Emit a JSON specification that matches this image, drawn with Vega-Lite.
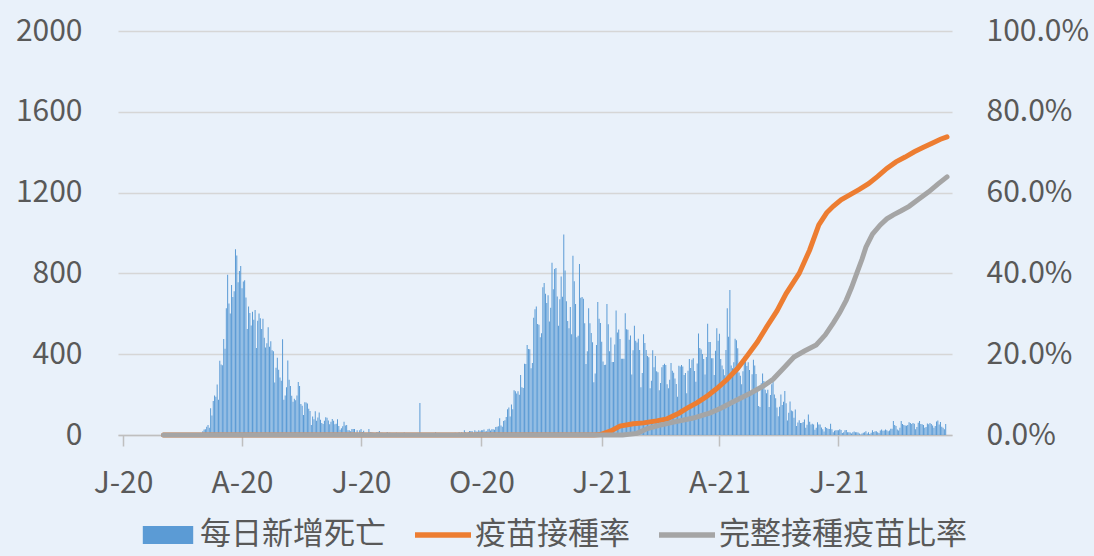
{
  "$schema": "https://vega.github.io/schema/vega-lite/v6.json",
  "width": 834,
  "height": 404,
  "autosize": {"type": "none"},
  "padding": {"left": 118, "top": 31, "right": 142, "bottom": 121},
  "background": "#E9F1FA",
  "config": {
    "view": {"stroke": null},
    "axis": {"labelFont": "Noto Sans CJK TC", "labelFontSize": 30, "labelColor": "#595959", "title": null},
    "legend": {"labelFont": "Noto Sans CJK TC", "labelFontSize": 31, "labelColor": "#595959", "labelLimit": 0}
  },
  "datasets": {
    "deaths": [
{"d":"2020-02-21","v":1},{"d":"2020-02-22","v":1},{"d":"2020-02-23","v":1},{"d":"2020-02-24","v":4},{"d":"2020-02-25","v":3},{"d":"2020-02-26","v":2},{"d":"2020-02-27","v":5},{"d":"2020-02-28","v":4},{"d":"2020-02-29","v":8},
{"d":"2020-03-01","v":5},{"d":"2020-03-02","v":18},{"d":"2020-03-03","v":27},{"d":"2020-03-04","v":28},{"d":"2020-03-05","v":41},{"d":"2020-03-06","v":49},{"d":"2020-03-07","v":36},{"d":"2020-03-08","v":133},{"d":"2020-03-09","v":97},{"d":"2020-03-10","v":168},{"d":"2020-03-11","v":196},{"d":"2020-03-12","v":189},{"d":"2020-03-13","v":250},{"d":"2020-03-14","v":175},{"d":"2020-03-15","v":368},{"d":"2020-03-16","v":349},{"d":"2020-03-17","v":345},{"d":"2020-03-18","v":475},{"d":"2020-03-19","v":427},{"d":"2020-03-20","v":627},{"d":"2020-03-21","v":793},{"d":"2020-03-22","v":651},{"d":"2020-03-23","v":601},{"d":"2020-03-24","v":743},{"d":"2020-03-25","v":683},{"d":"2020-03-26","v":712},{"d":"2020-03-27","v":919},{"d":"2020-03-28","v":889},{"d":"2020-03-29","v":756},{"d":"2020-03-30","v":812},{"d":"2020-03-31","v":837},
{"d":"2020-04-01","v":727},{"d":"2020-04-02","v":760},{"d":"2020-04-03","v":766},{"d":"2020-04-04","v":681},{"d":"2020-04-05","v":525},{"d":"2020-04-06","v":636},{"d":"2020-04-07","v":604},{"d":"2020-04-08","v":542},{"d":"2020-04-09","v":610},{"d":"2020-04-10","v":570},{"d":"2020-04-11","v":619},{"d":"2020-04-12","v":431},{"d":"2020-04-13","v":566},{"d":"2020-04-14","v":602},{"d":"2020-04-15","v":578},{"d":"2020-04-16","v":525},{"d":"2020-04-17","v":575},{"d":"2020-04-18","v":482},{"d":"2020-04-19","v":433},{"d":"2020-04-20","v":454},{"d":"2020-04-21","v":534},{"d":"2020-04-22","v":437},{"d":"2020-04-23","v":464},{"d":"2020-04-24","v":420},{"d":"2020-04-25","v":415},{"d":"2020-04-26","v":260},{"d":"2020-04-27","v":333},{"d":"2020-04-28","v":382},{"d":"2020-04-29","v":323},{"d":"2020-04-30","v":285},
{"d":"2020-05-01","v":269},{"d":"2020-05-02","v":474},{"d":"2020-05-03","v":174},{"d":"2020-05-04","v":195},{"d":"2020-05-05","v":236},{"d":"2020-05-06","v":369},{"d":"2020-05-07","v":274},{"d":"2020-05-08","v":243},{"d":"2020-05-09","v":194},{"d":"2020-05-10","v":165},{"d":"2020-05-11","v":179},{"d":"2020-05-12","v":172},{"d":"2020-05-13","v":195},{"d":"2020-05-14","v":262},{"d":"2020-05-15","v":242},{"d":"2020-05-16","v":153},{"d":"2020-05-17","v":145},{"d":"2020-05-18","v":99},{"d":"2020-05-19","v":162},{"d":"2020-05-20","v":161},{"d":"2020-05-21","v":156},{"d":"2020-05-22","v":130},{"d":"2020-05-23","v":119},{"d":"2020-05-24","v":50},{"d":"2020-05-25","v":92},{"d":"2020-05-26","v":78},{"d":"2020-05-27","v":117},{"d":"2020-05-28","v":70},{"d":"2020-05-29","v":87},{"d":"2020-05-30","v":111},{"d":"2020-05-31","v":75},
{"d":"2020-06-01","v":60},{"d":"2020-06-02","v":55},{"d":"2020-06-03","v":71},{"d":"2020-06-04","v":88},{"d":"2020-06-05","v":85},{"d":"2020-06-06","v":72},{"d":"2020-06-07","v":53},{"d":"2020-06-08","v":65},{"d":"2020-06-09","v":79},{"d":"2020-06-10","v":71},{"d":"2020-06-11","v":53},{"d":"2020-06-12","v":56},{"d":"2020-06-13","v":78},{"d":"2020-06-14","v":44},{"d":"2020-06-15","v":26},{"d":"2020-06-16","v":34},{"d":"2020-06-17","v":43},{"d":"2020-06-18","v":66},{"d":"2020-06-19","v":47},{"d":"2020-06-20","v":49},{"d":"2020-06-21","v":24},{"d":"2020-06-22","v":23},{"d":"2020-06-23","v":18},{"d":"2020-06-24","v":30},{"d":"2020-06-25","v":30},{"d":"2020-06-26","v":30},{"d":"2020-06-27","v":8},{"d":"2020-06-28","v":24},{"d":"2020-06-29","v":6},{"d":"2020-06-30","v":23},
{"d":"2020-07-01","v":30},{"d":"2020-07-02","v":15},{"d":"2020-07-03","v":21},{"d":"2020-07-04","v":7},{"d":"2020-07-05","v":8},{"d":"2020-07-06","v":8},{"d":"2020-07-07","v":30},{"d":"2020-07-08","v":15},{"d":"2020-07-09","v":12},{"d":"2020-07-10","v":12},{"d":"2020-07-11","v":7},{"d":"2020-07-12","v":7},{"d":"2020-07-13","v":13},{"d":"2020-07-14","v":13},{"d":"2020-07-15","v":20},{"d":"2020-07-16","v":11},{"d":"2020-07-17","v":11},{"d":"2020-07-18","v":9},{"d":"2020-07-19","v":3},{"d":"2020-07-20","v":3},{"d":"2020-07-21","v":15},{"d":"2020-07-22","v":9},{"d":"2020-07-23","v":11},{"d":"2020-07-24","v":10},{"d":"2020-07-25","v":5},{"d":"2020-07-26","v":5},{"d":"2020-07-27","v":5},{"d":"2020-07-28","v":11},{"d":"2020-07-29","v":6},{"d":"2020-07-30","v":3},{"d":"2020-07-31","v":9},
{"d":"2020-08-01","v":3},{"d":"2020-08-02","v":5},{"d":"2020-08-03","v":12},{"d":"2020-08-04","v":5},{"d":"2020-08-05","v":10},{"d":"2020-08-06","v":6},{"d":"2020-08-07","v":6},{"d":"2020-08-08","v":7},{"d":"2020-08-09","v":4},{"d":"2020-08-10","v":2},{"d":"2020-08-11","v":6},{"d":"2020-08-12","v":6},{"d":"2020-08-13","v":10},{"d":"2020-08-14","v":6},{"d":"2020-08-15","v":158},{"d":"2020-08-16","v":4},{"d":"2020-08-17","v":7},{"d":"2020-08-18","v":3},{"d":"2020-08-19","v":4},{"d":"2020-08-20","v":5},{"d":"2020-08-21","v":6},{"d":"2020-08-22","v":9},{"d":"2020-08-23","v":7},{"d":"2020-08-24","v":4},{"d":"2020-08-25","v":7},{"d":"2020-08-26","v":4},{"d":"2020-08-27","v":13},{"d":"2020-08-28","v":9},{"d":"2020-08-29","v":1},{"d":"2020-08-30","v":4},{"d":"2020-08-31","v":1},
{"d":"2020-09-01","v":6},{"d":"2020-09-02","v":10},{"d":"2020-09-03","v":6},{"d":"2020-09-04","v":10},{"d":"2020-09-05","v":6},{"d":"2020-09-06","v":7},{"d":"2020-09-07","v":8},{"d":"2020-09-08","v":10},{"d":"2020-09-09","v":10},{"d":"2020-09-10","v":10},{"d":"2020-09-11","v":11},{"d":"2020-09-12","v":6},{"d":"2020-09-13","v":7},{"d":"2020-09-14","v":14},{"d":"2020-09-15","v":9},{"d":"2020-09-16","v":13},{"d":"2020-09-17","v":10},{"d":"2020-09-18","v":24},{"d":"2020-09-19","v":14},{"d":"2020-09-20","v":10},{"d":"2020-09-21","v":14},{"d":"2020-09-22","v":20},{"d":"2020-09-23","v":20},{"d":"2020-09-24","v":19},{"d":"2020-09-25","v":10},{"d":"2020-09-26","v":24},{"d":"2020-09-27","v":17},{"d":"2020-09-28","v":16},{"d":"2020-09-29","v":24},{"d":"2020-09-30","v":19},
{"d":"2020-10-01","v":24},{"d":"2020-10-02","v":23},{"d":"2020-10-03","v":27},{"d":"2020-10-04","v":17},{"d":"2020-10-05","v":18},{"d":"2020-10-06","v":28},{"d":"2020-10-07","v":31},{"d":"2020-10-08","v":22},{"d":"2020-10-09","v":28},{"d":"2020-10-10","v":29},{"d":"2020-10-11","v":26},{"d":"2020-10-12","v":39},{"d":"2020-10-13","v":41},{"d":"2020-10-14","v":43},{"d":"2020-10-15","v":83},{"d":"2020-10-16","v":47},{"d":"2020-10-17","v":41},{"d":"2020-10-18","v":69},{"d":"2020-10-19","v":73},{"d":"2020-10-20","v":89},{"d":"2020-10-21","v":127},{"d":"2020-10-22","v":136},{"d":"2020-10-23","v":91},{"d":"2020-10-24","v":151},{"d":"2020-10-25","v":128},{"d":"2020-10-26","v":221},{"d":"2020-10-27","v":217},{"d":"2020-10-28","v":205},{"d":"2020-10-29","v":217},{"d":"2020-10-30","v":199},{"d":"2020-10-31","v":297},
{"d":"2020-11-01","v":236},{"d":"2020-11-02","v":233},{"d":"2020-11-03","v":353},{"d":"2020-11-04","v":352},{"d":"2020-11-05","v":445},{"d":"2020-11-06","v":426},{"d":"2020-11-07","v":425},{"d":"2020-11-08","v":331},{"d":"2020-11-09","v":356},{"d":"2020-11-10","v":580},{"d":"2020-11-11","v":623},{"d":"2020-11-12","v":636},{"d":"2020-11-13","v":550},{"d":"2020-11-14","v":546},{"d":"2020-11-15","v":484},{"d":"2020-11-16","v":504},{"d":"2020-11-17","v":731},{"d":"2020-11-18","v":753},{"d":"2020-11-19","v":699},{"d":"2020-11-20","v":653},{"d":"2020-11-21","v":692},{"d":"2020-11-22","v":562},{"d":"2020-11-23","v":630},{"d":"2020-11-24","v":853},{"d":"2020-11-25","v":722},{"d":"2020-11-26","v":822},{"d":"2020-11-27","v":827},{"d":"2020-11-28","v":686},{"d":"2020-11-29","v":541},{"d":"2020-11-30","v":672},
{"d":"2020-12-01","v":785},{"d":"2020-12-02","v":684},{"d":"2020-12-03","v":993},{"d":"2020-12-04","v":814},{"d":"2020-12-05","v":662},{"d":"2020-12-06","v":564},{"d":"2020-12-07","v":528},{"d":"2020-12-08","v":634},{"d":"2020-12-09","v":499},{"d":"2020-12-10","v":887},{"d":"2020-12-11","v":761},{"d":"2020-12-12","v":649},{"d":"2020-12-13","v":484},{"d":"2020-12-14","v":491},{"d":"2020-12-15","v":846},{"d":"2020-12-16","v":680},{"d":"2020-12-17","v":683},{"d":"2020-12-18","v":674},{"d":"2020-12-19","v":553},{"d":"2020-12-20","v":352},{"d":"2020-12-21","v":415},{"d":"2020-12-22","v":628},{"d":"2020-12-23","v":553},{"d":"2020-12-24","v":505},{"d":"2020-12-25","v":459},{"d":"2020-12-26","v":261},{"d":"2020-12-27","v":305},{"d":"2020-12-28","v":445},{"d":"2020-12-29","v":659},{"d":"2020-12-30","v":575},{"d":"2020-12-31","v":555},
{"d":"2021-01-01","v":462},{"d":"2021-01-02","v":364},{"d":"2021-01-03","v":347},{"d":"2021-01-04","v":348},{"d":"2021-01-05","v":649},{"d":"2021-01-06","v":548},{"d":"2021-01-07","v":414},{"d":"2021-01-08","v":483},{"d":"2021-01-09","v":361},{"d":"2021-01-10","v":361},{"d":"2021-01-11","v":448},{"d":"2021-01-12","v":616},{"d":"2021-01-13","v":507},{"d":"2021-01-14","v":522},{"d":"2021-01-15","v":475},{"d":"2021-01-16","v":377},{"d":"2021-01-17","v":377},{"d":"2021-01-18","v":377},{"d":"2021-01-19","v":603},{"d":"2021-01-20","v":524},{"d":"2021-01-21","v":521},{"d":"2021-01-22","v":472},{"d":"2021-01-23","v":492},{"d":"2021-01-24","v":299},{"d":"2021-01-25","v":420},{"d":"2021-01-26","v":541},{"d":"2021-01-27","v":467},{"d":"2021-01-28","v":458},{"d":"2021-01-29","v":477},{"d":"2021-01-30","v":421},{"d":"2021-01-31","v":237},
{"d":"2021-02-01","v":307},{"d":"2021-02-02","v":499},{"d":"2021-02-03","v":456},{"d":"2021-02-04","v":421},{"d":"2021-02-05","v":391},{"d":"2021-02-06","v":385},{"d":"2021-02-07","v":232},{"d":"2021-02-08","v":269},{"d":"2021-02-09","v":419},{"d":"2021-02-10","v":336},{"d":"2021-02-11","v":391},{"d":"2021-02-12","v":316},{"d":"2021-02-13","v":311},{"d":"2021-02-14","v":221},{"d":"2021-02-15","v":258},{"d":"2021-02-16","v":336},{"d":"2021-02-17","v":347},{"d":"2021-02-18","v":353},{"d":"2021-02-19","v":347},{"d":"2021-02-20","v":251},{"d":"2021-02-21","v":232},{"d":"2021-02-22","v":274},{"d":"2021-02-23","v":356},{"d":"2021-02-24","v":318},{"d":"2021-02-25","v":308},{"d":"2021-02-26","v":280},{"d":"2021-02-27","v":253},{"d":"2021-02-28","v":189},
{"d":"2021-03-01","v":343},{"d":"2021-03-02","v":339},{"d":"2021-03-03","v":347},{"d":"2021-03-04","v":339},{"d":"2021-03-05","v":297},{"d":"2021-03-06","v":307},{"d":"2021-03-07","v":207},{"d":"2021-03-08","v":318},{"d":"2021-03-09","v":376},{"d":"2021-03-10","v":332},{"d":"2021-03-11","v":373},{"d":"2021-03-12","v":380},{"d":"2021-03-13","v":317},{"d":"2021-03-14","v":264},{"d":"2021-03-15","v":354},{"d":"2021-03-16","v":502},{"d":"2021-03-17","v":431},{"d":"2021-03-18","v":423},{"d":"2021-03-19","v":401},{"d":"2021-03-20","v":376},{"d":"2021-03-21","v":300},{"d":"2021-03-22","v":386},{"d":"2021-03-23","v":551},{"d":"2021-03-24","v":460},{"d":"2021-03-25","v":460},{"d":"2021-03-26","v":380},{"d":"2021-03-27","v":380},{"d":"2021-03-28","v":297},{"d":"2021-03-29","v":417},{"d":"2021-03-30","v":529},{"d":"2021-03-31","v":467},
{"d":"2021-04-01","v":501},{"d":"2021-04-02","v":376},{"d":"2021-04-03","v":344},{"d":"2021-04-04","v":326},{"d":"2021-04-05","v":296},{"d":"2021-04-06","v":421},{"d":"2021-04-07","v":627},{"d":"2021-04-08","v":487},{"d":"2021-04-09","v":718},{"d":"2021-04-10","v":344},{"d":"2021-04-11","v":331},{"d":"2021-04-12","v":360},{"d":"2021-04-13","v":476},{"d":"2021-04-14","v":469},{"d":"2021-04-15","v":429},{"d":"2021-04-16","v":310},{"d":"2021-04-17","v":293},{"d":"2021-04-18","v":251},{"d":"2021-04-19","v":316},{"d":"2021-04-20","v":390},{"d":"2021-04-21","v":364},{"d":"2021-04-22","v":342},{"d":"2021-04-23","v":360},{"d":"2021-04-24","v":322},{"d":"2021-04-25","v":217},{"d":"2021-04-26","v":301},{"d":"2021-04-27","v":373},{"d":"2021-04-28","v":344},{"d":"2021-04-29","v":302},{"d":"2021-04-30","v":226},
{"d":"2021-05-01","v":144},{"d":"2021-05-02","v":139},{"d":"2021-05-03","v":256},{"d":"2021-05-04","v":305},{"d":"2021-05-05","v":267},{"d":"2021-05-06","v":224},{"d":"2021-05-07","v":207},{"d":"2021-05-08","v":224},{"d":"2021-05-09","v":139},{"d":"2021-05-10","v":198},{"d":"2021-05-11","v":251},{"d":"2021-05-12","v":262},{"d":"2021-05-13","v":201},{"d":"2021-05-14","v":182},{"d":"2021-05-15","v":136},{"d":"2021-05-16","v":93},{"d":"2021-05-17","v":140},{"d":"2021-05-18","v":201},{"d":"2021-05-19","v":149},{"d":"2021-05-20","v":164},{"d":"2021-05-21","v":218},{"d":"2021-05-22","v":157},{"d":"2021-05-23","v":72},{"d":"2021-05-24","v":110},{"d":"2021-05-25","v":166},{"d":"2021-05-26","v":121},{"d":"2021-05-27","v":118},{"d":"2021-05-28","v":86},{"d":"2021-05-29","v":126},{"d":"2021-05-30","v":44},{"d":"2021-05-31","v":62},
{"d":"2021-06-01","v":73},{"d":"2021-06-02","v":60},{"d":"2021-06-03","v":59},{"d":"2021-06-04","v":64},{"d":"2021-06-05","v":77},{"d":"2021-06-06","v":36},{"d":"2021-06-07","v":51},{"d":"2021-06-08","v":102},{"d":"2021-06-09","v":65},{"d":"2021-06-10","v":52},{"d":"2021-06-11","v":56},{"d":"2021-06-12","v":52},{"d":"2021-06-13","v":26},{"d":"2021-06-14","v":36},{"d":"2021-06-15","v":63},{"d":"2021-06-16","v":52},{"d":"2021-06-17","v":52},{"d":"2021-06-18","v":37},{"d":"2021-06-19","v":28},{"d":"2021-06-20","v":17},{"d":"2021-06-21","v":40},{"d":"2021-06-22","v":35},{"d":"2021-06-23","v":31},{"d":"2021-06-24","v":30},{"d":"2021-06-25","v":56},{"d":"2021-06-26","v":28},{"d":"2021-06-27","v":14},{"d":"2021-06-28","v":21},{"d":"2021-06-29","v":24},{"d":"2021-06-30","v":23},
{"d":"2021-07-01","v":23},{"d":"2021-07-02","v":28},{"d":"2021-07-03","v":25},{"d":"2021-07-04","v":10},{"d":"2021-07-05","v":14},{"d":"2021-07-06","v":24},{"d":"2021-07-07","v":25},{"d":"2021-07-08","v":14},{"d":"2021-07-09","v":13},{"d":"2021-07-10","v":12},{"d":"2021-07-11","v":7},{"d":"2021-07-12","v":13},{"d":"2021-07-13","v":17},{"d":"2021-07-14","v":13},{"d":"2021-07-15","v":13},{"d":"2021-07-16","v":12},{"d":"2021-07-17","v":7},{"d":"2021-07-18","v":3},{"d":"2021-07-19","v":7},{"d":"2021-07-20","v":11},{"d":"2021-07-21","v":14},{"d":"2021-07-22","v":18},{"d":"2021-07-23","v":7},{"d":"2021-07-24","v":13},{"d":"2021-07-25","v":5},{"d":"2021-07-26","v":11},{"d":"2021-07-27","v":24},{"d":"2021-07-28","v":15},{"d":"2021-07-29","v":19},{"d":"2021-07-30","v":18},{"d":"2021-07-31","v":14},
{"d":"2021-08-01","v":10},{"d":"2021-08-02","v":22},{"d":"2021-08-03","v":27},{"d":"2021-08-04","v":21},{"d":"2021-08-05","v":22},{"d":"2021-08-06","v":27},{"d":"2021-08-07","v":24},{"d":"2021-08-08","v":18},{"d":"2021-08-09","v":22},{"d":"2021-08-10","v":31},{"d":"2021-08-11","v":31},{"d":"2021-08-12","v":69},{"d":"2021-08-13","v":49},{"d":"2021-08-14","v":45},{"d":"2021-08-15","v":27},{"d":"2021-08-16","v":22},{"d":"2021-08-17","v":36},{"d":"2021-08-18","v":69},{"d":"2021-08-19","v":55},{"d":"2021-08-20","v":50},{"d":"2021-08-21","v":47},{"d":"2021-08-22","v":46},{"d":"2021-08-23","v":49},{"d":"2021-08-24","v":63},{"d":"2021-08-25","v":60},{"d":"2021-08-26","v":54},{"d":"2021-08-27","v":60},{"d":"2021-08-28","v":56},{"d":"2021-08-29","v":29},{"d":"2021-08-30","v":39},{"d":"2021-08-31","v":61},
{"d":"2021-09-01","v":69},{"d":"2021-09-02","v":54},{"d":"2021-09-03","v":53},{"d":"2021-09-04","v":49},{"d":"2021-09-05","v":36},{"d":"2021-09-06","v":40},{"d":"2021-09-07","v":57},{"d":"2021-09-08","v":53},{"d":"2021-09-09","v":59},{"d":"2021-09-10","v":54},{"d":"2021-09-11","v":47},{"d":"2021-09-12","v":36},{"d":"2021-09-13","v":45},{"d":"2021-09-14","v":67},{"d":"2021-09-15","v":72},{"d":"2021-09-16","v":52},{"d":"2021-09-17","v":64},{"d":"2021-09-18","v":41},{"d":"2021-09-19","v":36},{"d":"2021-09-20","v":28},{"d":"2021-09-21","v":54}
    ],
    "first": [
{"d":"2020-02-01","p":0},{"d":"2020-12-26","p":0},{"d":"2020-12-31","p":0.001},{"d":"2021-01-08","p":0.01},{"d":"2021-01-15","p":0.022},{"d":"2021-01-25","p":0.028},{"d":"2021-02-02","p":0.030},{"d":"2021-02-12","p":0.035},{"d":"2021-02-20","p":0.040},{"d":"2021-03-01","p":0.054},{"d":"2021-03-07","p":0.066},{"d":"2021-03-15","p":0.080},{"d":"2021-03-22","p":0.095},{"d":"2021-03-30","p":0.115},{"d":"2021-04-07","p":0.138},{"d":"2021-04-15","p":0.165},{"d":"2021-04-22","p":0.195},{"d":"2021-04-30","p":0.23},{"d":"2021-05-07","p":0.267},{"d":"2021-05-15","p":0.307},{"d":"2021-05-22","p":0.35},{"d":"2021-06-01","p":0.40},{"d":"2021-06-09","p":0.458},{"d":"2021-06-16","p":0.52},{"d":"2021-06-22","p":0.55},{"d":"2021-06-27","p":0.566},{"d":"2021-07-03","p":0.582},{"d":"2021-07-10","p":0.595},{"d":"2021-07-17","p":0.608},{"d":"2021-07-24","p":0.622},{"d":"2021-07-31","p":0.64},{"d":"2021-08-07","p":0.66},{"d":"2021-08-14","p":0.676},{"d":"2021-08-21","p":0.688},{"d":"2021-08-28","p":0.701},{"d":"2021-09-04","p":0.712},{"d":"2021-09-11","p":0.723},{"d":"2021-09-17","p":0.732},{"d":"2021-09-22","p":0.738}
    ],
    "full": [
{"d":"2020-02-01","p":0},{"d":"2021-01-17","p":0},{"d":"2021-01-28","p":0.004},{"d":"2021-02-05","p":0.016},{"d":"2021-02-14","p":0.024},{"d":"2021-02-25","p":0.032},{"d":"2021-03-12","p":0.042},{"d":"2021-03-25","p":0.055},{"d":"2021-04-02","p":0.066},{"d":"2021-04-12","p":0.083},{"d":"2021-04-25","p":0.104},{"d":"2021-05-05","p":0.122},{"d":"2021-05-12","p":0.138},{"d":"2021-05-20","p":0.165},{"d":"2021-05-28","p":0.193},{"d":"2021-06-05","p":0.208},{"d":"2021-06-14","p":0.223},{"d":"2021-06-21","p":0.248},{"d":"2021-06-27","p":0.277},{"d":"2021-07-02","p":0.303},{"d":"2021-07-07","p":0.334},{"d":"2021-07-11","p":0.365},{"d":"2021-07-15","p":0.40},{"d":"2021-07-19","p":0.435},{"d":"2021-07-22","p":0.465},{"d":"2021-07-27","p":0.497},{"d":"2021-08-02","p":0.52},{"d":"2021-08-07","p":0.535},{"d":"2021-08-12","p":0.545},{"d":"2021-08-18","p":0.555},{"d":"2021-08-24","p":0.566},{"d":"2021-08-31","p":0.583},{"d":"2021-09-08","p":0.602},{"d":"2021-09-15","p":0.621},{"d":"2021-09-22","p":0.639}
    ]
  },
  "encoding": {
    "x": {
      "field": "d",
      "type": "temporal",
      "scale": {"type": "utc", "domain": [{"year": 2020, "month": 1, "date": 1, "utc": true}, {"year": 2021, "month": 9, "date": 22, "utc": true}]},
      "axis": {
        "values": [
          {"year": 2020, "month": 1, "date": 1, "utc": true},
          {"year": 2020, "month": 4, "date": 1, "utc": true},
          {"year": 2020, "month": 7, "date": 1, "utc": true},
          {"year": 2020, "month": 10, "date": 1, "utc": true},
          {"year": 2021, "month": 1, "date": 1, "utc": true},
          {"year": 2021, "month": 4, "date": 1, "utc": true},
          {"year": 2021, "month": 7, "date": 1, "utc": true}
        ],
        "labelExpr": "substring(utcFormat(datum.value, '%b'), 0, 1) + '-' + utcFormat(datum.value, '%y')",
        "grid": false,
        "tickSize": 11,
        "tickColor": "#BFBFBF",
        "tickWidth": 1.5,
        "domainColor": "#BFBFBF",
        "domainWidth": 1.5,
        "labelPadding": 22,
        "labelFlush": false,
        "labelOverlap": false
      }
    }
  },
  "layer": [
    {
      "data": {"name": "deaths"},
      "mark": {"type": "bar", "width": 1, "color": "#5B9BD5"},
      "encoding": {
        "y": {
          "field": "v",
          "type": "quantitative",
          "scale": {"domain": [0, 2000], "nice": false},
          "axis": {
            "orient": "left",
            "format": "d",
            "values": [0, 400, 800, 1200, 1600, 2000],
            "grid": true,
            "gridColor": "#D6D6D6",
            "gridWidth": 1.5,
            "domain": false,
            "ticks": false,
            "labelPadding": 36
          }
        },
        "color": {
          "datum": "每日新增死亡",
          "type": "nominal",
          "scale": {"domain": ["每日新增死亡", "疫苗接種率", "完整接種疫苗比率"], "range": ["#5B9BD5", "#ED7D31", "#A5A5A5"]},
          "legend": {
            "title": null,
            "orient": "none",
            "legendX": 22,
            "legendY": 476,
            "direction": "horizontal",
            "padding": 0,
            "symbolSize": 3136,
            "labelOffset": 4,
            "labelLimit": 0,
            "columnPadding": 29,
            "encode": {
              "symbols": {
                "update": {
                  "shape": {"signal": "datum.value === '每日新增死亡' ? 'M-0.9,-0.32H0.9V0.32H-0.9Z' : 'M-1,-0.1H1V0.1H-1Z'"},
                  "fill": {"signal": "scale('color', datum.value)"},
                  "stroke": {"value": "transparent"},
                  "strokeWidth": {"value": 0},
                  "opacity": {"value": 1}
                }
              }
            }
          }
        }
      }
    },
    {
      "encoding": {
        "y": {
          "field": "p",
          "type": "quantitative",
          "scale": {"domain": [0, 1], "nice": false},
          "axis": {
            "orient": "right",
            "format": ".1%",
            "values": [0, 0.2, 0.4, 0.6, 0.8, 1],
            "grid": false,
            "domain": false,
            "ticks": false,
            "labelPadding": 34
          }
        }
      },
      "layer": [
        {
          "data": {"name": "first"},
          "mark": {"type": "line", "strokeWidth": 5, "strokeCap": "round"},
          "encoding": {"color": {"datum": "疫苗接種率", "type": "nominal"}}
        },
        {
          "data": {"name": "full"},
          "mark": {"type": "line", "strokeWidth": 5, "strokeCap": "round"},
          "encoding": {"color": {"datum": "完整接種疫苗比率", "type": "nominal"}}
        }
      ]
    }
  ],
  "resolve": {"scale": {"y": "independent"}}
}
